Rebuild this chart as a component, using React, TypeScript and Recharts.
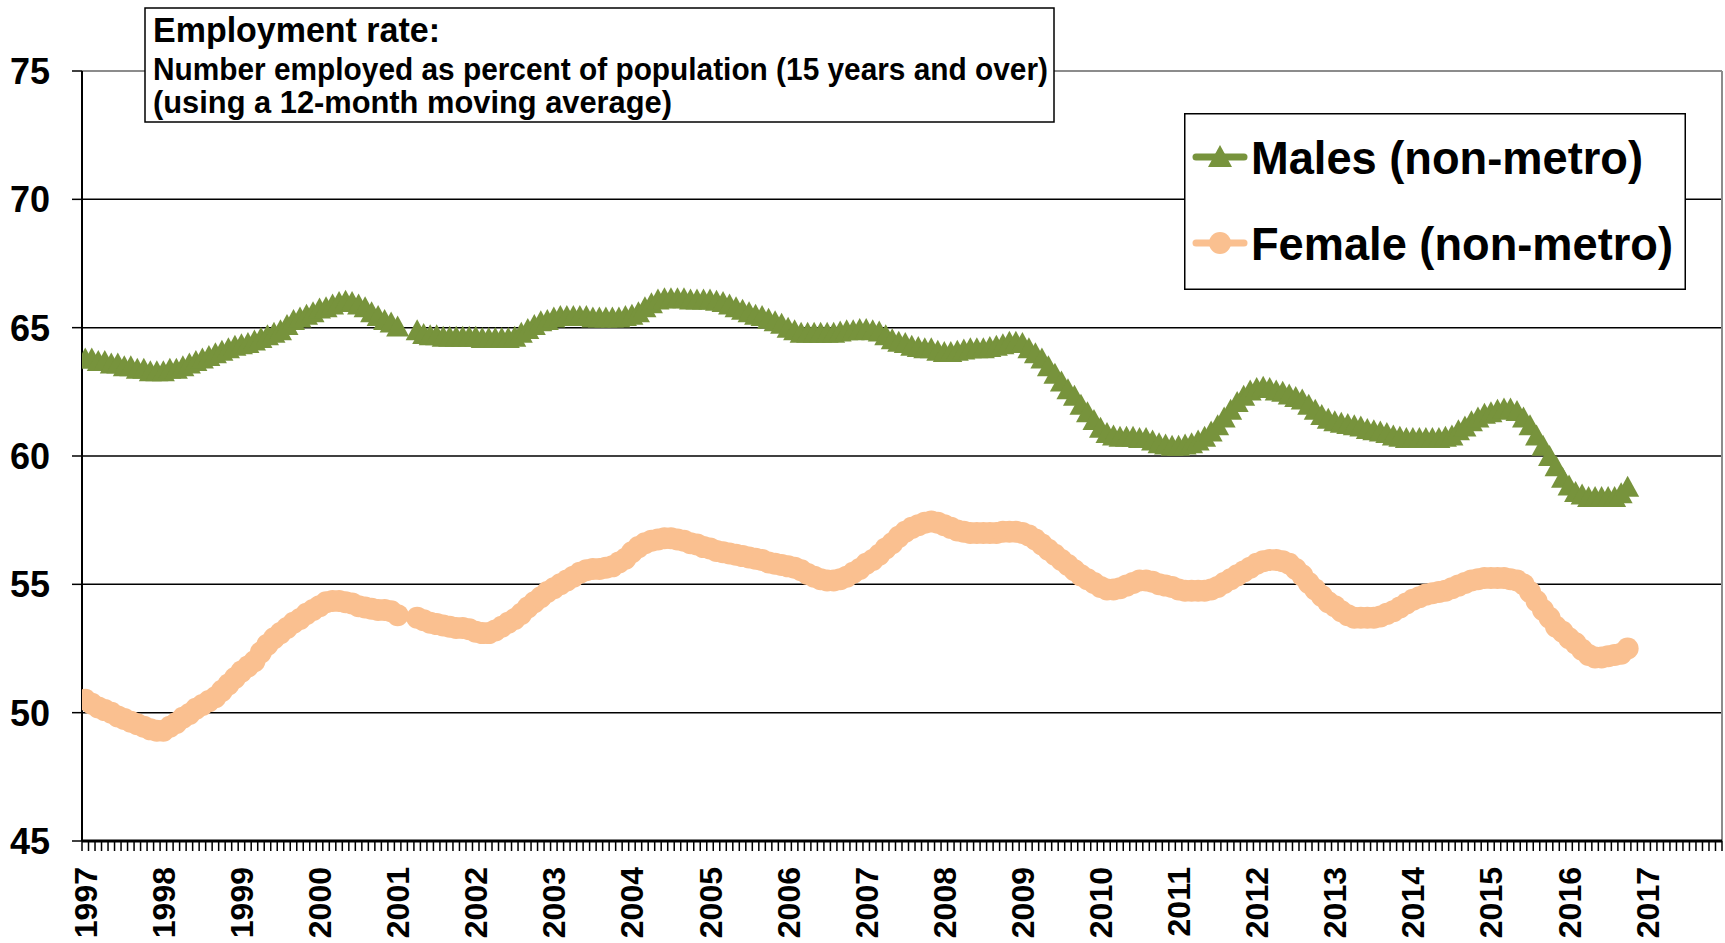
import { LineChart, Line, XAxis, YAxis, CartesianGrid, ReferenceLine, Legend } from 'recharts'

const years = [
  1997, 1998, 1999, 2000, 2001, 2002, 2003, 2004, 2005, 2006, 2007,
  2008, 2009, 2010, 2011, 2012, 2013, 2014, 2015, 2016, 2017,
]

// monthly, Jan 1997 .. Oct 2016 (12-month moving average), null = break in series
const males: (number | null)[] = [
  63.8, 63.8, 63.7, 63.7, 63.6, 63.6, 63.5, 63.5, 63.4, 63.4, 63.3, 63.3,
  63.3, 63.4, 63.4, 63.5, 63.6, 63.7, 63.8, 63.9, 64.0, 64.1, 64.2, 64.3,
  64.35, 64.4, 64.5, 64.6, 64.7, 64.8, 64.9, 65.1, 65.3, 65.4, 65.5, 65.6,
  65.75, 65.8, 65.9, 66.0, 66.05, 66.0, 65.9, 65.8, 65.6, 65.45, 65.3, 65.2,
  65.05, null, null, 64.9, 64.75, 64.7, 64.7, 64.65, 64.65, 64.65, 64.65, 64.65,
  64.65, 64.6, 64.6, 64.6, 64.6, 64.6, 64.65, 64.8, 64.95, 65.1, 65.25, 65.3,
  65.4, 65.45, 65.45, 65.45, 65.45, 65.45, 65.4, 65.4, 65.4, 65.4, 65.4, 65.45,
  65.5, 65.6, 65.8, 65.95, 66.1, 66.15, 66.15, 66.15, 66.15, 66.1, 66.1, 66.1,
  66.1, 66.05, 66.0, 65.9, 65.8, 65.7, 65.6, 65.5, 65.45, 65.35, 65.25, 65.15,
  65.0, 64.9, 64.8, 64.8, 64.8, 64.8, 64.8, 64.8, 64.85, 64.9, 64.9, 64.95,
  64.95, 64.9, 64.85, 64.7, 64.55, 64.45, 64.4, 64.3, 64.25, 64.2, 64.2, 64.1,
  64.05, 64.05, 64.1, 64.15, 64.2, 64.2, 64.2, 64.25, 64.3, 64.35, 64.45, 64.45,
  64.4, 64.2, 64.0, 63.8, 63.5, 63.2, 62.9, 62.6, 62.35, 62.0, 61.7, 61.4,
  61.1, 60.9, 60.8, 60.75, 60.75, 60.75, 60.7, 60.7, 60.6, 60.5, 60.45, 60.4,
  60.4, 60.45, 60.5, 60.6, 60.75, 60.95, 61.2, 61.5, 61.8, 62.1, 62.35, 62.55,
  62.65, 62.7, 62.65, 62.55, 62.5, 62.4, 62.3, 62.2, 62.0, 61.8, 61.6, 61.45,
  61.35, 61.3, 61.25, 61.2, 61.15, 61.05, 61.0, 60.95, 60.9, 60.8, 60.75, 60.7,
  60.7, 60.7, 60.7, 60.7, 60.7, 60.75, 60.8, 61.0, 61.15, 61.35, 61.5, 61.65,
  61.7, 61.8, 61.85, 61.85, 61.75, 61.5, 61.2, 60.8, 60.4, 60.0, 59.6, 59.15,
  58.85, 58.6, 58.5, 58.4, 58.4, 58.4, 58.4, 58.4, 58.55, 58.8,
]

const females: (number | null)[] = [
  50.5, 50.35, 50.2, 50.1, 50.0, 49.85, 49.75, 49.65, 49.55, 49.45, 49.35, 49.3,
  49.3, 49.45, 49.6, 49.8, 49.95, 50.15, 50.3, 50.45, 50.6, 50.85, 51.1, 51.35,
  51.6, 51.8, 52.0, 52.35, 52.65, 52.9, 53.1, 53.3, 53.5, 53.65, 53.85, 54.0,
  54.15, 54.3, 54.35, 54.35, 54.3, 54.25, 54.15, 54.1, 54.05, 54.0, 54.0, 53.95,
  53.8, null, null, 53.7, 53.6, 53.5, 53.45, 53.4, 53.35, 53.3, 53.3, 53.25,
  53.15, 53.1, 53.1, 53.2, 53.35, 53.5, 53.65, 53.85, 54.1, 54.3, 54.5, 54.7,
  54.85, 55.0, 55.15, 55.3, 55.45, 55.55, 55.6, 55.6, 55.65, 55.7, 55.85, 56.0,
  56.25, 56.45, 56.6, 56.7, 56.75, 56.8, 56.8, 56.75, 56.7, 56.6, 56.55, 56.45,
  56.4, 56.3, 56.25, 56.2, 56.15, 56.1, 56.05, 56.0, 55.95, 55.85, 55.8, 55.75,
  55.7, 55.65, 55.55, 55.4, 55.3, 55.2, 55.15, 55.15, 55.2, 55.3, 55.45, 55.6,
  55.8, 55.95, 56.15, 56.4, 56.6, 56.85, 57.05, 57.2, 57.3, 57.4, 57.45, 57.4,
  57.3, 57.2, 57.1, 57.05, 57.0, 57.0, 57.0, 57.0, 57.0, 57.05, 57.05, 57.05,
  57.0, 56.9, 56.75, 56.55, 56.35, 56.15, 55.95, 55.75, 55.55, 55.35, 55.2, 55.05,
  54.9, 54.8, 54.8, 54.85, 54.95, 55.05, 55.15, 55.15, 55.1, 55.0, 54.95, 54.9,
  54.8, 54.75, 54.75, 54.75, 54.75, 54.8, 54.9, 55.05, 55.2, 55.35, 55.5, 55.65,
  55.8, 55.9, 55.95, 55.95, 55.9, 55.8, 55.6, 55.35, 55.05, 54.8, 54.55, 54.3,
  54.15, 53.95, 53.8, 53.7, 53.7, 53.7, 53.7, 53.75, 53.85, 53.95, 54.1, 54.25,
  54.4, 54.5, 54.6, 54.65, 54.7, 54.75, 54.85, 54.95, 55.05, 55.15, 55.2, 55.25,
  55.25, 55.25, 55.25, 55.2, 55.15, 55.0, 54.7, 54.35, 54.0, 53.7, 53.35, 53.15,
  52.9, 52.7, 52.45, 52.25, 52.15, 52.15, 52.2, 52.25, 52.3, 52.5,
]

const yTicks = [45, 50, 55, 60, 65, 70, 75]
const gridValues = [50, 55, 60, 65, 70]

const titleLines = [
  'Employment rate:',
  'Number employed as percent of population (15 years and over)',
  '(using a 12-month moving average)',
]

const MALE = '#77933C'
const FEMALE = '#FAC090'
const FONT = '"Liberation Sans", Arial, sans-serif'

const MONTHS = years.length * 12
const data = males.map((m, i) => ({ x: i + 0.5, males: m, females: females[i] }))
const monthTicks = Array.from({ length: MONTHS + 1 }, (_, i) => i)
const yearTicks = years.map((_, i) => i * 12 + 0.5)

function TriangleDot(props: any) {
  const { cx, cy, index } = props
  if (cx == null || cy == null || props.value == null) return <g key={index} />
  return (
    <polygon
      key={index}
      points={`${cx},${cy - 11} ${cx + 11.5},${cy + 10} ${cx - 11.5},${cy + 10}`}
      fill={MALE}
    />
  )
}

function CircleDot(props: any) {
  const { cx, cy, index } = props
  if (cx == null || cy == null || props.value == null) return <g key={index} />
  return <circle key={index} cx={cx} cy={cy} r={11} fill={FEMALE} />
}

function EmptyTick() {
  return <g />
}

function YearTick({ x, y, payload }: any) {
  const year = years[Math.round((payload.value - 0.5) / 12)]
  return (
    <text
      x={x}
      y={y}
      transform={`rotate(-90, ${x}, ${y})`}
      textAnchor="end"
      dy="0.36em"
      fontFamily={FONT}
      fontWeight="bold"
      fontSize={32}
      fill="#000"
    >
      {year}
    </text>
  )
}

function ValueTick({ x, y, payload }: any) {
  return (
    <text x={x} y={y} textAnchor="end" dy="0.36em" fontFamily={FONT} fontWeight="bold" fontSize={36} fill="#000">
      {payload.value}
    </text>
  )
}

function LegendBox({ payload }: any) {
  const rows = [...(payload || [])].sort((a: any) => (a.dataKey === 'males' ? -1 : 1))
  return (
    <svg width={502} height={177} style={{ display: 'block' }}>
      <rect x={0.75} y={0.75} width={500.5} height={175.5} fill="#fff" stroke="#000" strokeWidth={1.5} />
      {rows.map((entry: any, i: number) => {
        const cy = i === 0 ? 44 : 130
        const isMale = entry.dataKey === 'males'
        return (
          <g key={entry.value}>
            <line x1={12} x2={60} y1={cy} y2={cy} stroke={entry.color} strokeWidth={7} strokeLinecap="round" />
            {isMale ? (
              <polygon points={`36,${cy - 12} 48,${cy + 10} 24,${cy + 10}`} fill={entry.color} />
            ) : (
              <circle cx={36} cy={cy} r={11} fill={entry.color} />
            )}
            <text
              x={67}
              y={cy + 17}
              fontFamily={FONT}
              fontWeight="bold"
              fontSize={46}
              fill="#000"
              textLength={isMale ? 392 : 422}
              lengthAdjust="spacingAndGlyphs"
            >
              {entry.value}
            </text>
          </g>
        )
      })}
    </svg>
  )
}

export default function App() {
  return (
    <div style={{ position: 'absolute', left: 0, top: 0, width: 1725, height: 943, background: '#fff' }}>
      <LineChart width={1725} height={943} data={data} margin={{ top: 71, right: 3, bottom: 0, left: 0 }}>
        <CartesianGrid horizontal vertical={false} horizontalValues={gridValues} stroke="#000" strokeWidth={1.5} />
        <ReferenceLine y={75} stroke="#8c8c8c" strokeWidth={2} />
        <ReferenceLine x={MONTHS} stroke="#8c8c8c" strokeWidth={2} />
        <XAxis
          dataKey="x"
          type="number"
          domain={[0, MONTHS]}
          ticks={monthTicks}
          interval={0}
          tick={<EmptyTick />}
          tickSize={10}
          height={12}
          axisLine={{ stroke: '#000', strokeWidth: 3 }}
          tickLine={{ stroke: '#000', strokeWidth: 1.5 }}
          allowDataOverflow
        />
        <XAxis
          xAxisId="yr"
          dataKey="x"
          type="number"
          domain={[0, MONTHS]}
          ticks={yearTicks}
          interval={0}
          tick={<YearTick />}
          tickLine={false}
          axisLine={false}
          tickSize={0}
          tickMargin={14}
          height={90}
          allowDataOverflow
        />
        <YAxis
          type="number"
          domain={[45, 75]}
          ticks={yTicks}
          interval={0}
          width={82}
          tickSize={10}
          tickMargin={22}
          tick={<ValueTick />}
          axisLine={{ stroke: '#000', strokeWidth: 2 }}
          tickLine={{ stroke: '#000', strokeWidth: 1.5 }}
        />
        <Legend
          layout="vertical"
          align="center"
          verticalAlign="middle"
          wrapperStyle={{ left: 1184, top: 113, width: 502, height: 177 }}
          content={(props: any) => <LegendBox payload={props.payload} />}
        />
        <Line
          name="Males (non-metro)"
          dataKey="males"
          stroke={MALE}
          strokeWidth={3}
          dot={(p: any) => <TriangleDot {...p} />}
          activeDot={false}
          isAnimationActive={false}
        />
        <Line
          xAxisId="yr"
          name="Female (non-metro)"
          dataKey="females"
          stroke={FEMALE}
          strokeWidth={6}
          dot={(p: any) => <CircleDot {...p} />}
          activeDot={false}
          isAnimationActive={false}
        />
      </LineChart>
      <svg
        width={1725}
        height={943}
        style={{ position: 'absolute', left: 0, top: 0, pointerEvents: 'none' }}
      >
        <rect x={145} y={8} width={909} height={114} fill="#fff" stroke="#000" strokeWidth={1.5} />
        <text x={153} y={42} fontFamily={FONT} fontWeight="bold" fontSize={35} textLength={287} lengthAdjust="spacingAndGlyphs">
          {titleLines[0]}
        </text>
        <text x={153} y={80} fontFamily={FONT} fontWeight="bold" fontSize={31} textLength={895} lengthAdjust="spacingAndGlyphs">
          {titleLines[1]}
        </text>
        <text x={153} y={113} fontFamily={FONT} fontWeight="bold" fontSize={31} textLength={519} lengthAdjust="spacingAndGlyphs">
          {titleLines[2]}
        </text>
      </svg>
    </div>
  )
}
